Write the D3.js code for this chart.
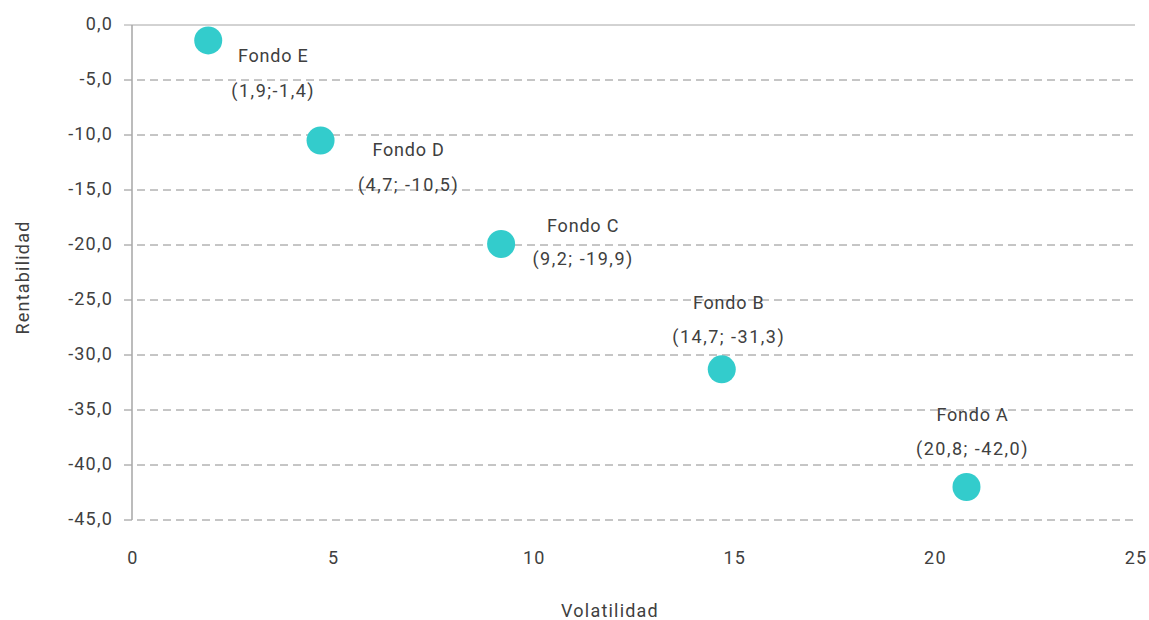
<!DOCTYPE html>
<html>
<head>
<meta charset="utf-8">
<script src="https://cdn.jsdelivr.net/npm/d3@7/dist/d3.min.js"></script>
<style>
  html, body { margin: 0; padding: 0; background: #fff; }
  svg { display: block; }
  text { font-family: Roboto, "Noto Sans", sans-serif; fill: #404040; font-size: 18px; letter-spacing: 1.2px; }
</style>
</head>
<body>
<svg id="chart" width="1149" height="620"></svg>
<script>
// Fund data: volatility (x) vs. return (y)
const funds = ["Fondo A", "Fondo B", "Fondo C", "Fondo D", "Fondo E"];
const volatilidad = [20.8, 14.7, 9.2, 4.7, 1.9];
const rentabilidad = [-42.0, -31.3, -19.9, -10.5, -1.4];
const valueLabels = ["(20,8; -42,0)", "(14,7; -31,3)", "(9,2; -19,9)", "(4,7; -10,5)", "(1,9;-1,4)"];

const xTicks = [0, 5, 10, 15, 20, 25];
const yTicks = [0, -5, -10, -15, -20, -25, -30, -35, -40, -45];

// Label placement relative to each marker (px): name offset and value offset
const labelDx = [6, 7, 82, 88, 65];
const nameDy = [-73, -67, -18, 9, 15];
const valueDy = [-39, -33, 15, 44, 50];

const svg = d3.select("#chart");
const margin = { left: 132, right: 14, top: 25, bottom: 100 };
const W = 1149, H = 620;

const x = d3.scaleLinear().domain([0, 25]).range([margin.left, W - margin.right]);
const y = d3.scaleLinear().domain([0, -45]).range([margin.top, H - margin.bottom]);

const fmtY = d => d3.format(".1f")(d).replace(".", ",").replace("−", "-");

// Horizontal gridlines (top one solid, others dashed)
svg.append("g").selectAll("line")
  .data(yTicks)
  .join("line")
  .attr("x1", x(0) - 8)
  .attr("x2", x(25))
  .attr("y1", d => y(d))
  .attr("y2", d => y(d))
  .attr("stroke", d => d === 0 ? "#a6a6a6" : "#8c8c8c")
  .attr("stroke-width", 1)
  .attr("stroke-dasharray", d => d === 0 ? null : "8,5");

// Vertical axis line
svg.append("line")
  .attr("x1", x(0)).attr("x2", x(0))
  .attr("y1", y(0)).attr("y2", y(-45))
  .attr("stroke", "#a6a6a6").attr("stroke-width", 1.5);

// Y tick labels
svg.append("g").selectAll("text")
  .data(yTicks)
  .join("text")
  .attr("x", x(0) - 19)
  .attr("y", d => y(d) - 2)
  .attr("text-anchor", "end")
  .attr("dominant-baseline", "central")
  .text(fmtY);

// X tick labels
svg.append("g").selectAll("text")
  .data(xTicks)
  .join("text")
  .attr("x", d => x(d) + 1)
  .attr("y", 557)
  .attr("text-anchor", "middle")
  .attr("dominant-baseline", "central")
  .text(d => d);

// Axis titles
svg.append("text")
  .attr("transform", `translate(22,${(y(0) + y(-45)) / 2 + 5}) rotate(-90)`)
  .attr("text-anchor", "middle")
  .attr("dominant-baseline", "central")
  .text("Rentabilidad");

svg.append("text")
  .attr("x", 610)
  .attr("y", 610)
  .attr("text-anchor", "middle")
  .attr("dominant-baseline", "central")
  .text("Volatilidad");

// Markers
const pts = funds.map((f, i) => ({ name: f, vx: volatilidad[i], vy: rentabilidad[i], label: valueLabels[i], i }));

svg.append("g").selectAll("circle")
  .data(pts)
  .join("circle")
  .attr("cx", d => x(d.vx))
  .attr("cy", d => y(d.vy))
  .attr("r", 14)
  .attr("fill", "#33CCCC");

// Data labels
const lbl = svg.append("g");
lbl.selectAll("text.name")
  .data(pts)
  .join("text")
  .attr("class", "name")
  .attr("x", d => x(d.vx) + labelDx[d.i])
  .attr("y", d => y(d.vy) + nameDy[d.i])
  .attr("text-anchor", "middle")
  .attr("dominant-baseline", "central")
  .style("letter-spacing", "0.8px")
  .text(d => d.name);

lbl.selectAll("text.val")
  .data(pts)
  .join("text")
  .attr("class", "val")
  .attr("x", d => x(d.vx) + labelDx[d.i])
  .attr("y", d => y(d.vy) + valueDy[d.i])
  .attr("text-anchor", "middle")
  .attr("dominant-baseline", "central")
  .style("letter-spacing", "1.5px")
  .text(d => d.label);
</script>
</body>
</html>
